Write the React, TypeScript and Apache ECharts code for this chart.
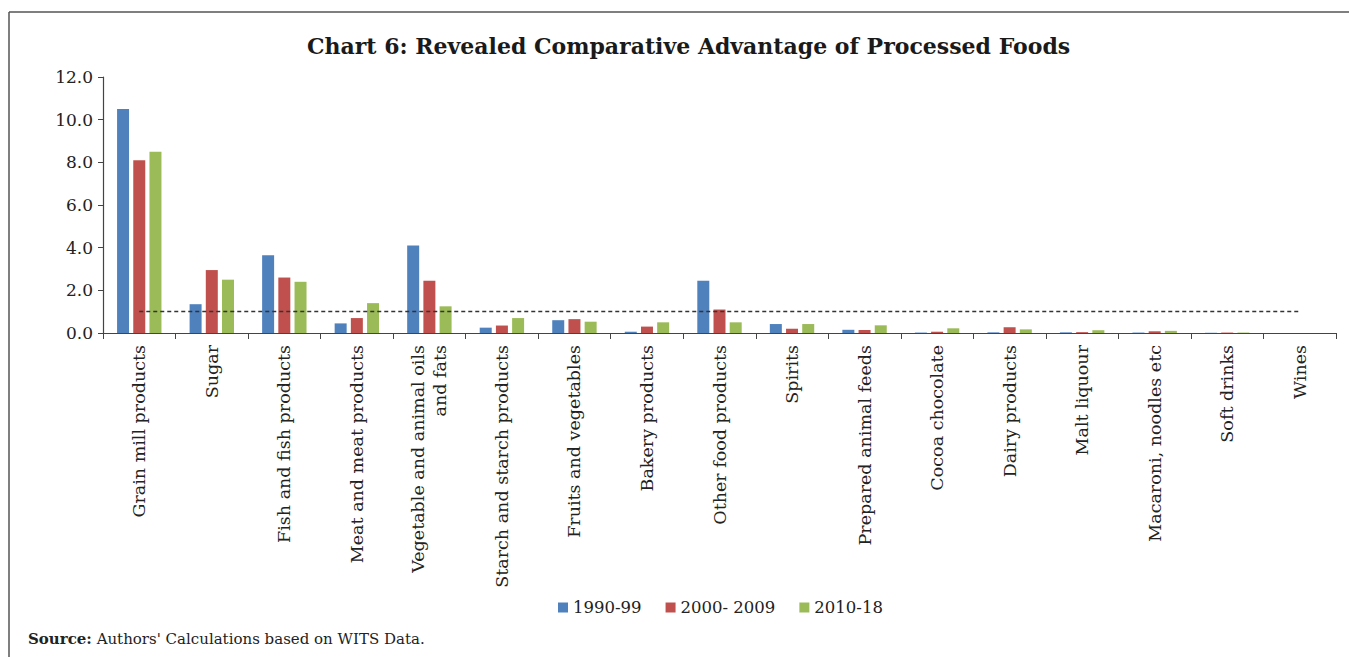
import React, { useEffect, useRef } from "react";
import * as echarts from "echarts";

const categories = [
  "Grain mill products",
  "Sugar",
  "Fish and fish products",
  "Meat and meat products",
  "Vegetable and animal oils\nand fats",
  "Starch and starch products",
  "Fruits and vegetables",
  "Bakery products",
  "Other food products",
  "Spirits",
  "Prepared animal feeds",
  "Cocoa chocolate",
  "Dairy products",
  "Malt liquour",
  "Macaroni, noodles etc",
  "Soft drinks",
  "Wines",
];

const seriesNames = ["1990-99", "2000- 2009", "2010-18"];
const s1990 = [10.5, 1.35, 3.65, 0.45, 4.1, 0.25, 0.6, 0.06, 2.45, 0.42, 0.15, 0.02, 0.03, 0.03, 0.02, 0.01, 0];
const s2000 = [8.1, 2.95, 2.6, 0.7, 2.45, 0.35, 0.65, 0.3, 1.1, 0.2, 0.14, 0.06, 0.27, 0.04, 0.08, 0.02, 0];
const s2010 = [8.5, 2.5, 2.4, 1.4, 1.25, 0.7, 0.53, 0.5, 0.5, 0.42, 0.36, 0.22, 0.17, 0.13, 0.1, 0.02, 0];
const benchmark = 1;
const yTicks = { min: 0, max: 12, interval: 2 };

const colors = ["#4F81BD", "#C0504D", "#9BBB59"];
const FONT = "'DejaVu Serif', serif";

export default function App() {
  const ref = useRef<HTMLDivElement>(null);
  useEffect(() => {
    if (!ref.current) return;
    const chart = echarts.init(ref.current, null, { renderer: "svg" });
    const data = [s1990, s2000, s2010];
    chart.setOption({
      animation: false,
      backgroundColor: "#fff",
      textStyle: { fontFamily: FONT },
      title: {
        text: "Chart 6: Revealed Comparative Advantage of Processed Foods",
        left: 302,
        top: 30,
        textStyle: { fontFamily: FONT, fontWeight: "bold", fontSize: 22, color: "#1a1a1a" },
      },
      legend: {
        bottom: 36,
        left: 553,
        icon: "rect",
        itemWidth: 10,
        itemHeight: 10,
        itemGap: 24,
        data: seriesNames,
        textStyle: { fontFamily: FONT, fontSize: 16.5, color: "#222" },
      },
      grid: { left: 103, right: 13, top: 77, bottom: 324, containLabel: false },
      xAxis: {
        type: "category",
        data: categories,
        axisLine: { lineStyle: { color: "#444", width: 1.2 } },
        axisTick: { show: true, length: 6, lineStyle: { color: "#444" } },
        axisLabel: {
          interval: 0,
          rotate: 90,
          margin: 12,
          fontFamily: FONT,
          fontSize: 17.5,
          color: "#222",
          lineHeight: 22,
        },
      },
      yAxis: {
        type: "value",
        min: yTicks.min,
        max: yTicks.max,
        interval: yTicks.interval,
        splitLine: { show: false },
        axisLine: { show: true, lineStyle: { color: "#444", width: 1.2 } },
        axisTick: { show: true, length: 5, lineStyle: { color: "#444" } },
        axisLabel: {
          fontFamily: FONT,
          fontSize: 17,
          color: "#222",
          margin: 10,
          formatter: (v: number) => v.toFixed(1),
        },
      },
      series: seriesNames.map((name, i) => ({
        name,
        type: "bar",
        data: data[i],
        barWidth: 12,
        barGap: "35%",
        itemStyle: { color: colors[i] },
        markLine:
          i === 1
            ? {
                silent: true,
                symbol: "none",
                label: { show: false },
                lineStyle: { type: [4, 3], color: "#333", width: 1.3 },
                data: [
                  [
                    { coord: [categories[0], benchmark] },
                    { coord: [categories[categories.length - 1], benchmark] },
                  ],
                ],
              }
            : undefined,
      })),
      graphic: [
        { type: "line", shape: { x1: 9, y1: 12, x2: 1349, y2: 12 }, style: { stroke: "#555", lineWidth: 1.5 } },
        { type: "line", shape: { x1: 9, y1: 12, x2: 9, y2: 657 }, style: { stroke: "#555", lineWidth: 1.5 } },
        {
          type: "text",
          left: 28,
          top: 631,
          style: {
            text: "{b|Source:} Authors' Calculations based on WITS Data.",
            rich: {
              b: { fontFamily: FONT, fontWeight: "bold", fontSize: 15, fill: "#222" },
            },
            fontFamily: FONT,
            fontSize: 15,
            fill: "#222",
          },
        },
      ],
    });
    return () => chart.dispose();
  }, []);
  return (
    <div
      ref={ref}
      style={{ position: "fixed", left: 0, top: 0, width: 1349, height: 657 }}
    />
  );
}
